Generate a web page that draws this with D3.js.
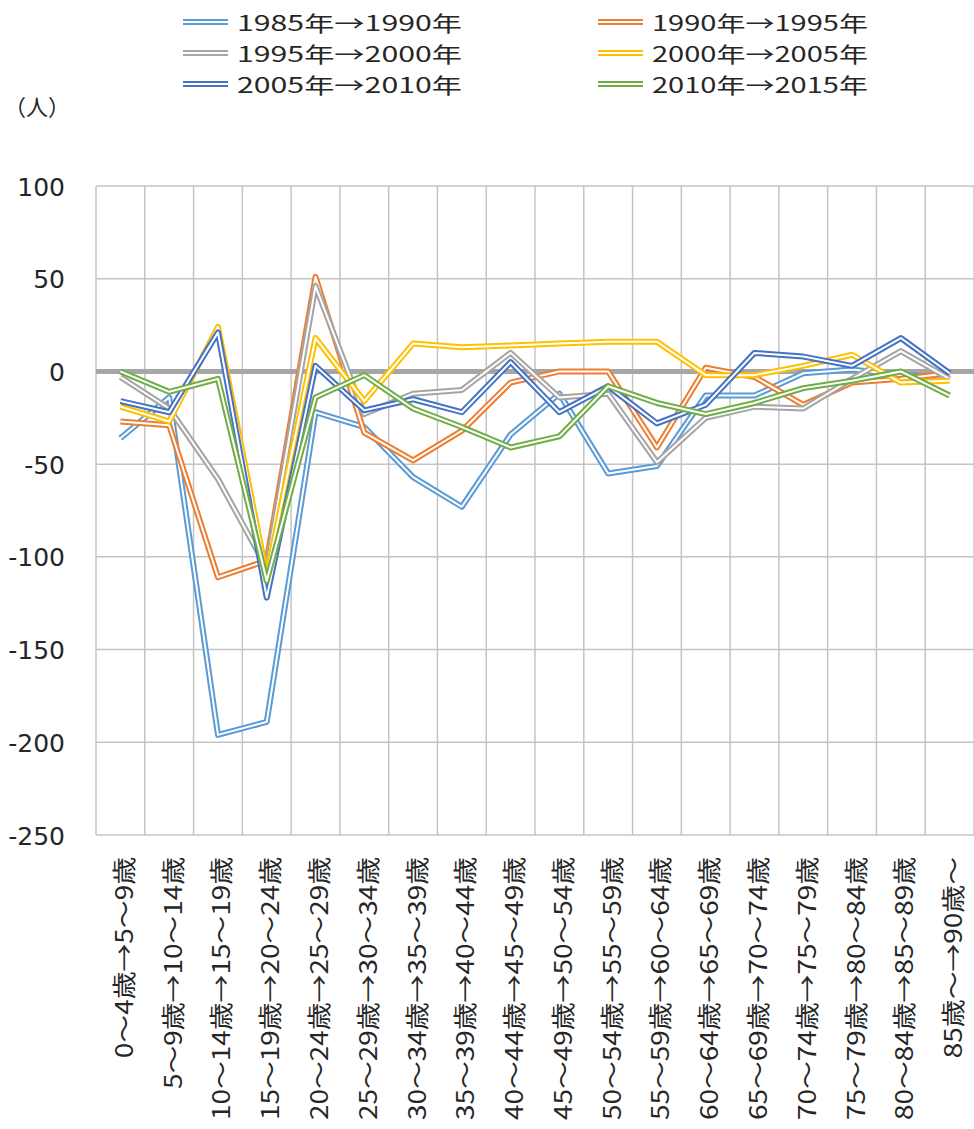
<!DOCTYPE html>
<html>
<head>
<meta charset="utf-8">
<script src="https://cdn.jsdelivr.net/npm/d3@7/dist/d3.min.js"></script>
<style>
  html, body { margin: 0; padding: 0; background: #fff; }
  svg { display: block; }
  text { font-family: "Noto Sans CJK JP", "Noto Sans", sans-serif; fill: #262626; }
</style>
</head>
<body>
<svg id="chart" width="974" height="1129"></svg>
<script>
// Age-cohort transitions (x axis)
const categories = [
  "0～4歳→5～9歳", "5～9歳→10～14歳", "10～14歳→15～19歳", "15～19歳→20～24歳",
  "20～24歳→25～29歳", "25～29歳→30～34歳", "30～34歳→35～39歳", "35～39歳→40～44歳",
  "40～44歳→45～49歳", "45～49歳→50～54歳", "50～54歳→55～59歳", "55～59歳→60～64歳",
  "60～64歳→65～69歳", "65～69歳→70～74歳", "70～74歳→75～79歳", "75～79歳→80～84歳",
  "80～84歳→85～89歳", "85歳～→90歳～"
];

// Net change (persons) per period
const s1985_1990 = [-36, -14, -196, -189, -22, -30, -57, -73, -34, -12, -55, -51, -13, -13, -1, 1, -2, -3];
const s1990_1995 = [-27, -29, -111, -102, 51, -33, -48, -32, -6, 0, 0, -41, 2, -3, -18, -6, -4, -1];
const s1995_2000 = [-3, -20, -58, -106, 46, -23, -12, -10, 10, -14, -12, -49, -25, -19, -20, -4, 11, -4];
const s2000_2005 = [-19, -27, 24, -110, 18, -16, 15, 13, 14, 15, 16, 16, -2, -2, 3, 9, -6, -5];
const s2005_2010 = [-16, -22, 21, -122, 3, -21, -15, -22, 5, -22, -8, -28, -18, 10, 8, 3, 18, -1];
const s2010_2015 = [0, -11, -4, -113, -14, -2, -20, -30, -41, -35, -8, -17, -23, -17, -9, -5, 0, -13];

const seriesNames = ["1985年→1990年", "1990年→1995年", "1995年→2000年", "2000年→2005年", "2005年→2010年", "2010年→2015年"];
const seriesColors = ["#5b9bd5", "#ed7d31", "#a5a5a5", "#ffc000", "#4472c4", "#70ad47"];
const seriesValues = [s1985_1990, s1990_1995, s1995_2000, s2000_2005, s2005_2010, s2010_2015];

const yTicks = [100, 50, 0, -50, -100, -150, -200, -250];
const unitLabel = "（人）";

const svg = d3.select("#chart");
const plot = { left: 96, right: 974, top: 186, bottom: 835 };

const x = d3.scaleBand().domain(categories).range([plot.left, plot.right]).padding(0);
const y = d3.scaleLinear().domain([-250, 100]).range([plot.bottom, plot.top]);

const gridColor = "#c4c4c4";

// horizontal gridlines
svg.append("g").selectAll("line").data(yTicks).join("line")
  .attr("x1", plot.left).attr("x2", plot.right)
  .attr("y1", d => y(d)).attr("y2", d => y(d))
  .attr("stroke", gridColor).attr("stroke-width", 1.5);

// vertical gridlines at category boundaries
const bounds = categories.map(c => x(c)).concat([plot.right]);
svg.append("g").selectAll("line").data(bounds).join("line")
  .attr("x1", d => d).attr("x2", d => d)
  .attr("y1", plot.top).attr("y2", plot.bottom)
  .attr("stroke", gridColor).attr("stroke-width", 1.5);

// y axis labels
const yAxis = d3.axisLeft(y).tickValues(yTicks).tickSize(0).tickPadding(0)
  .tickFormat(d => d);
const yg = svg.append("g").attr("transform", `translate(65,0)`).call(yAxis);
yg.select(".domain").remove();
yg.selectAll("text")
  .attr("font-size", 25).attr("fill", "#262626")
  .style("font-family", '"DejaVu Sans", "Noto Sans", sans-serif')
  .attr("dy", "0.36em");

// zero line
svg.append("line")
  .attr("x1", plot.left).attr("x2", plot.right)
  .attr("y1", y(0)).attr("y2", y(0))
  .attr("stroke", "#a6a6a6").attr("stroke-width", 5);

// double-stroke series lines
const line = d3.line()
  .x((d, i) => x(categories[i]) + x.bandwidth() / 2)
  .y(d => y(d));

seriesValues.forEach((vals, si) => {
  const g = svg.append("g");
  g.append("path").attr("d", line(vals)).attr("fill", "none")
    .attr("stroke", seriesColors[si]).attr("stroke-width", 6)
    .attr("stroke-linejoin", "round");
  g.append("path").attr("d", line(vals)).attr("fill", "none")
    .attr("stroke", "#fff").attr("stroke-width", 2)
    .attr("stroke-linejoin", "round");
});

// x axis category labels (rotated)
const xl = svg.append("g").selectAll("text").data(categories).join("text")
  .attr("transform", d => `translate(${x(d) + x.bandwidth() / 2 + 2},857) rotate(-90)`)
  .attr("text-anchor", "end")
  .attr("dominant-baseline", "central")
  .attr("font-size", 24)
  .text(d => d);
// scale glyph runs so the longer labels span their measured length
const refLen = xl.filter((d, i) => i === 2).node().getComputedTextLength();
const kx = 263 / refLen;
xl.each(function () {
  const w = this.getComputedTextLength();
  d3.select(this).attr("textLength", w * kx).attr("lengthAdjust", "spacingAndGlyphs");
});

// legend
const legendPos = [
  { sx: 183, tx: 237, y: 22 }, { sx: 598, tx: 652, y: 22 },
  { sx: 183, tx: 237, y: 53 }, { sx: 598, tx: 652, y: 53 },
  { sx: 183, tx: 237, y: 84 }, { sx: 598, tx: 652, y: 84 }
];
const lg = svg.append("g");
seriesNames.forEach((name, i) => {
  const p = legendPos[i];
  lg.append("line").attr("x1", p.sx).attr("x2", p.sx + 45).attr("y1", p.y).attr("y2", p.y)
    .attr("stroke", seriesColors[i]).attr("stroke-width", 6);
  lg.append("line").attr("x1", p.sx).attr("x2", p.sx + 45).attr("y1", p.y).attr("y2", p.y)
    .attr("stroke", "#fff").attr("stroke-width", 2);
  lg.append("text").attr("x", p.tx).attr("y", p.y)
    .attr("dominant-baseline", "central").attr("font-size", 21).text(name)
    .attr("textLength", i % 2 === 0 ? 225 : 216).attr("lengthAdjust", "spacingAndGlyphs");
});

// unit label
svg.append("text").attr("x", 4).attr("y", 105)
  .attr("dominant-baseline", "central").attr("font-size", 22).text(unitLabel);
</script>
</body>
</html>
